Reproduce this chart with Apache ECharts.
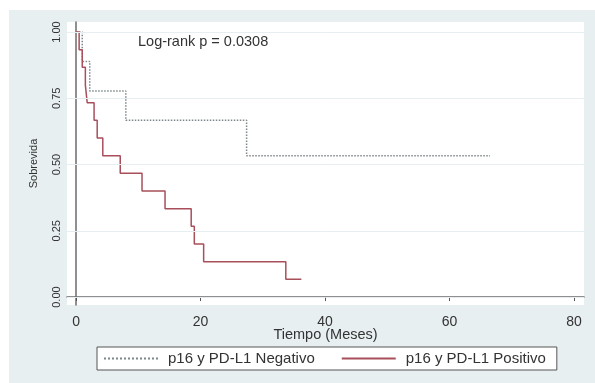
<!DOCTYPE html>
<html>
<head>
<meta charset="utf-8">
<script src="https://cdn.jsdelivr.net/npm/echarts@6/dist/echarts.min.js"></script>
<style>
    html, body { margin: 0; padding: 0; background: #fff; }
    #chart { width: 595px; height: 383px; }
</style>
</head>
<body>
<div id="chart"></div>
<script>
// Kaplan-Meier: tiempo (meses) y supervivencia
const negTimes = [0, 1.0, 2.2, 8.0, 27.4, 66.5];
const negSurv = [1, 0.889, 0.778, 0.667, 0.533, 0.533];
const posTimes = [0, 0.5, 1.0, 1.5, 1.8, 2.9, 3.4, 4.3, 7.1, 10.6, 14.3, 18.5, 19.0, 20.5, 33.7, 36.2];
const posSurv = [1, 0.933, 0.867, 0.8, 0.733, 0.667, 0.6, 0.533, 0.467, 0.4, 0.333, 0.267, 0.2, 0.133, 0.067, 0.067];
const xTicks = [0, 20, 40, 60, 80];
const yTicks = [0, 0.25, 0.5, 0.75, 1];
const seriesNames = ['p16 y PD-L1 Negativo', 'p16 y PD-L1 Positivo'];

const font = '"Liberation Sans", Arial, sans-serif';
const myChart = echarts.init(document.getElementById('chart'));

const option = {
    animation: false,
    backgroundColor: 'transparent',
    textStyle: { fontFamily: font },
    graphic: [
        {
            type: 'rect',
            z: -10,
            shape: { x: 9, y: 10, width: 586, height: 373 },
            style: { fill: '#e8eff1' }
        },
        {
            type: 'text',
            left: 138,
            top: 34,
            style: { text: 'Log-rank p = 0.0308', fontSize: 14.5, fill: '#333', fontFamily: font }
        }
    ],
    grid: {
        left: 67,
        right: 11,
        top: 22,
        bottom: 78,
        show: true,
        backgroundColor: '#fff',
        borderWidth: 0
    },
    legend: {
        left: 97,
        top: 347,
        data: seriesNames,
        itemWidth: 54,
        itemHeight: 10,
        itemGap: 26,
        padding: [4, 11, 4, 6],
        backgroundColor: '#fff',
        borderColor: '#555',
        borderWidth: 1,
        borderRadius: 0,
        itemStyle: { opacity: 0 },
        textStyle: { fontSize: 15, color: '#333', fontFamily: font, padding: [0, 0, 0, 5] }
    },
    xAxis: {
        type: 'value',
        min: -1.45,
        max: 81.6,
        name: 'Tiempo (Meses)',
        nameLocation: 'middle',
        nameGap: 22,
        nameMoveOverlap: false,
        nameTextStyle: { fontSize: 14.5, color: '#333' },
        axisLine: { lineStyle: { color: '#6b6b6b', width: 1.5 } },
        axisTick: { show: true, length: 4, customValues: xTicks, lineStyle: { color: '#555' } },
        axisLabel: { customValues: xTicks, fontSize: 14, color: '#333', margin: 10 },
        splitLine: { show: false }
    },
    yAxis: {
        type: 'value',
        min: -0.03,
        max: 1.038,
        name: 'Sobrevida',
        nameLocation: 'middle',
        nameRotate: 90,
        nameGap: 28,
        nameMoveOverlap: false,
        nameTextStyle: { fontSize: 11, color: '#333' },
        axisLine: { show: true, lineStyle: { color: '#6b6b6b', width: 1.5 } },
        axisTick: { show: true, length: 5, customValues: yTicks, lineStyle: { color: '#555', width: 1 } },
        axisLabel: {
            customValues: yTicks,
            rotate: 90,
            fontSize: 11,
            color: '#333',
            margin: 5,
            formatter: v => v.toFixed(2)
        },
        splitLine: { show: false }
    },
    series: [
        {
            name: seriesNames[0],
            type: 'line',
            step: 'end',
            symbol: 'none',
            z: 3,
            lineStyle: { color: '#7d868a', width: 1.5, type: 'dotted' },
            itemStyle: { color: '#7d868a' },
            data: negTimes.map((t, i) => [t, negSurv[i]]),
            markLine: {
                silent: true,
                symbol: 'none',
                label: { show: false },
                lineStyle: { color: '#e6eef1', width: 1, type: 'solid' },
                data: yTicks.map(v => ({ yAxis: v }))
            }
        },
        {
            name: seriesNames[1],
            type: 'line',
            step: 'end',
            symbol: 'none',
            z: 4,
            lineStyle: { color: '#a84f5b', width: 1.5 },
            itemStyle: { color: '#a84f5b' },
            data: posTimes.map((t, i) => [t, posSurv[i]])
        }
    ]
};

myChart.setOption(option);
</script>
</body>
</html>
